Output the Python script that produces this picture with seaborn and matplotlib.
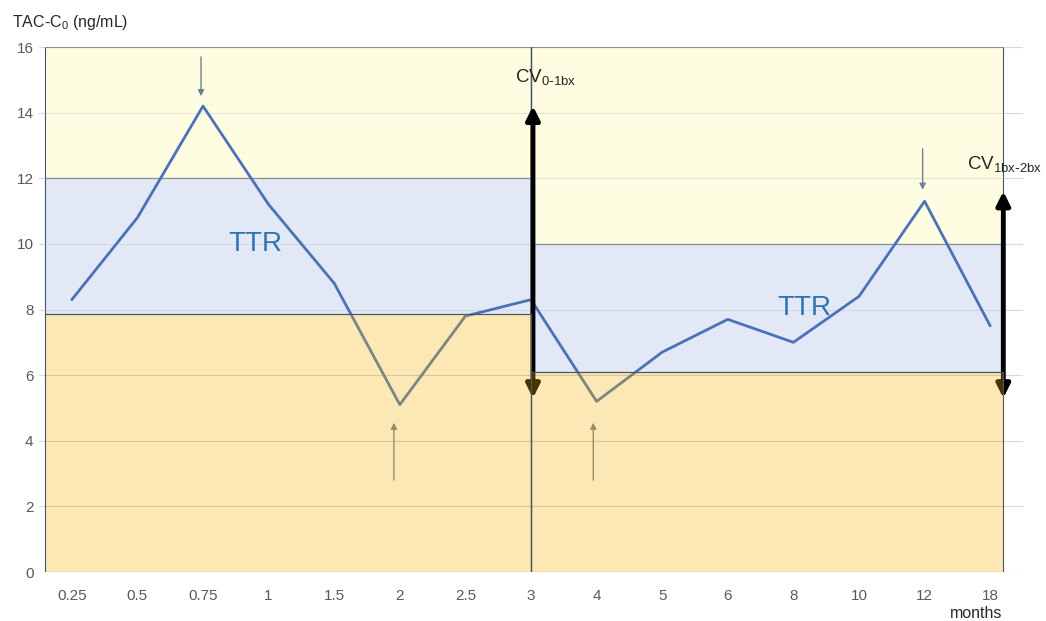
import numpy as np
import seaborn as sns
import matplotlib.pyplot as plt
import matplotlib.patches as mpatches

months = ['0.25', '0.5', '0.75', '1', '1.5', '2', '2.5', '3', '4', '5', '6', '8', '10', '12', '18']
tac_c0 = [8.3, 10.8, 14.2, 11.2, 8.8, 5.1, 7.8, 8.3, 5.2, 6.7, 7.7, 7.0, 8.4, 11.3, 7.5]

# therapeutic range per period: (low, high)
ttr_first = (7.85, 12.0)
ttr_second = (6.1, 10.0)
y_top = 16

sns.set_style('white')
plt.rcParams['font.family'] = ['Liberation Sans', 'DejaVu Sans']

fig = plt.figure(figsize=(10.46, 6.21), dpi=100)
ax = fig.add_axes([0.0373, 0.0789, 0.9407, 0.8454])

xpos = np.arange(len(months))
split = months.index('3')
x_left = -0.41
x_right = len(months) - 1 + 0.2

yellow = '#fffde1'
blue = '#e2e8f5'
# the low zone is a translucent orange laid over everything (tints line + arrows)
orange_overlay = (0.973, 0.706, 0.0, 0.293)
edge = '#44546a'


def band(x0, x1, y0, y1, color, z=1):
    p = mpatches.Polygon([(x0, y0), (x1, y0), (x1, y1), (x0, y1)], closed=True,
                         fc=color, ec=edge, lw=0.8, zorder=z)
    ax.add_patch(p)
    return p


band(x_left, split, ttr_first[1], y_top, yellow)
band(x_left, split, ttr_first[0], ttr_first[1], blue)
band(split, x_right, ttr_second[1], y_top, yellow)
band(split, x_right, ttr_second[0], ttr_second[1], blue)
band(x_left, split, 0, ttr_first[0], orange_overlay, z=6)
band(split, x_right, 0, ttr_second[0], orange_overlay, z=6)

# horizontal grid
for yv in range(0, y_top + 1, 2):
    ax.axhline(yv, color='#d9d9d9', lw=0.8, zorder=0.5)
    ax.plot([x_left, x_right], [yv, yv], color='#c8c8c8', lw=0.6, alpha=0.6, zorder=1.5)

sns.lineplot(x=xpos, y=tac_c0, color='#4a72b8', lw=2, ax=ax, zorder=3)

# vertical line at biopsy
ax.plot([split, split], [0, y_top], color=edge, lw=1, zorder=2)

# CV arrows
cv = dict(arrowstyle='<|-|>', color='black', lw=3.5, mutation_scale=20, shrinkA=0, shrinkB=0)
ax.annotate('', xy=(split + 0.03, 14.2), xytext=(split + 0.03, 5.3), arrowprops=cv, zorder=5)
ax.annotate('', xy=(x_right, 11.6), xytext=(x_right, 5.3), arrowprops=cv, zorder=5)
ax.text(split - 0.25, 15.05, r'CV$_{\mathregular{0\text{-}1bx}}$', fontsize=13.5, color='#262626', va='center', zorder=7)
ax.text(x_right - 0.55, 12.4, r'CV$_{\mathregular{1bx\text{-}2bx}}$', fontsize=13.5, color='#262626', va='center', zorder=7)

# small pointer arrows
pointer = dict(arrowstyle='-|>', color='#6f7f95', lw=1, mutation_scale=9, shrinkA=0, shrinkB=0)
ax.annotate('', xy=(2 - 0.03, 14.5), xytext=(2 - 0.03, 15.7), arrowprops=pointer, zorder=4)
ax.annotate('', xy=(13 - 0.03, 11.65), xytext=(13 - 0.03, 12.9), arrowprops=pointer, zorder=4)
ax.annotate('', xy=(5 - 0.09, 4.55), xytext=(5 - 0.09, 2.8), arrowprops=pointer, zorder=4)
ax.annotate('', xy=(8 - 0.05, 4.55), xytext=(8 - 0.05, 2.8), arrowprops=pointer, zorder=4)

# TTR labels
ax.text(2.8, 10.0, 'TTR', fontsize=20, color='#2e74b5', ha='center', va='center', zorder=7)
ax.text(11.17, 8.05, 'TTR', fontsize=20, color='#2e74b5', ha='center', va='center', zorder=7)

ax.set_xlim(-0.5, len(months) - 0.5)
ax.set_ylim(0, y_top)
ax.set_xticks(xpos)
ax.set_xticklabels(months)
ax.set_yticks(range(0, y_top + 1, 2))
ax.tick_params(axis='both', colors='#595959', labelsize=11, length=0, pad=12)
ax.tick_params(axis='y', pad=4)
for lab in ax.get_xticklabels() + ax.get_yticklabels():
    lab.set_family(['Liberation Sans Narrow', 'Liberation Sans', 'DejaVu Sans'])
for s in ax.spines.values():
    s.set_visible(False)

fig.text(12 / 1046, 1 - 22 / 621, r'TAC-C$_{\mathregular{0}}$ (ng/mL)', fontsize=11.5, color='#262626', va='center')
fig.text(1002 / 1046, 1 - 614 / 621, 'months', fontsize=11.5, color='#262626', ha='right', va='center',
         family=['Liberation Sans Narrow', 'Liberation Sans'])

fig.savefig('out.png', dpi=100)
